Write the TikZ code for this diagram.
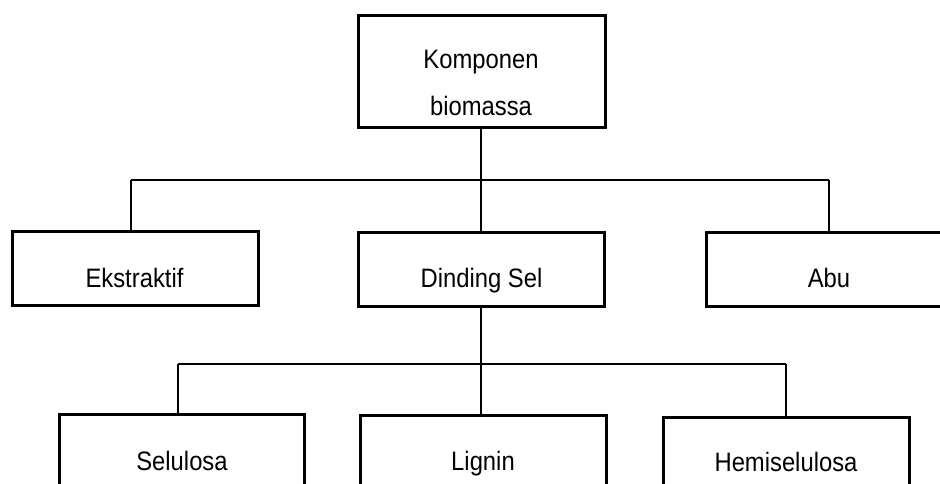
\documentclass[tikz,border=0pt]{standalone}
\usepackage{fontspec}
\setmainfont{Liberation Sans}
\newcommand{\tallt}[1]{\scalebox{1}[1.12]{#1}}
\begin{document}
\begin{tikzpicture}[x=1pt,y=-1pt,
  box/.style={draw=black,line width=3pt,inner sep=0pt,minimum width=246pt,minimum height=74pt},
  lbl/.style={anchor=base,inner sep=0pt,font=\fontsize{23.8}{28}\selectfont},
  conn/.style={draw=black,line width=1.1pt}]
\useasboundingbox (0,0) rectangle (940,483);
\clip (0,0) rectangle (940,483);
\fill[white] (0,0) rectangle (940,483);
% boxes
\node[box,minimum width=247pt,minimum height=112pt] (top) at (481.5,71) {};
\node[box] (ext) at (135,268) {};
\node[box] (ding) at (481,269) {};
\node[box] (abu) at (829,269) {};
\node[box,minimum width=245pt] (sel) at (181.5,451) {};
\node[box] (lig) at (483,452) {};
\node[box] (hem) at (786,454) {};
% labels
\node[lbl] (ttop1) at (481,68) {\tallt{Komponen}};
\node[lbl] (ttop2) at (481,115) {\tallt{biomassa}};
\node[lbl] (text) at (134.5,287) {\tallt{Ekstraktif}};
\node[lbl] (tding) at (481.5,287) {\tallt{Dinding Sel}};
\node[lbl] (tabu) at (829,287) {\tallt{Abu}};
\node[lbl] (tsel) at (182,470) {\tallt{Selulosa}};
\node[lbl] (tlig) at (483,470) {\tallt{Lignin}};
\node[lbl] (them) at (786,471) {\tallt{Hemiselulosa}};
% junctions
\coordinate (j1) at (481,180);
\coordinate (b1l) at (131,180);
\coordinate (b1r) at (829,180);
\coordinate (j2) at (481,364);
\coordinate (b2l) at (178,364);
\coordinate (b2r) at (786,364);
% connectors
\draw[conn] (top.south -| j1) -- (j1);
\draw[conn] (b1l) -- (b1r);
\draw[conn] (b1l) -- (b1l |- ext.north);
\draw[conn] (j1) -- (j1 |- ding.north);
\draw[conn] (b1r) -- (b1r |- abu.north);
\draw[conn] (ding.south -| j2) -- (j2 |- lig.north);
\draw[conn] (b2l) -- (b2r);
\draw[conn] (b2l) -- (b2l |- sel.north);
\draw[conn] (b2r) -- (b2r |- hem.north);
\end{tikzpicture}
\end{document}
